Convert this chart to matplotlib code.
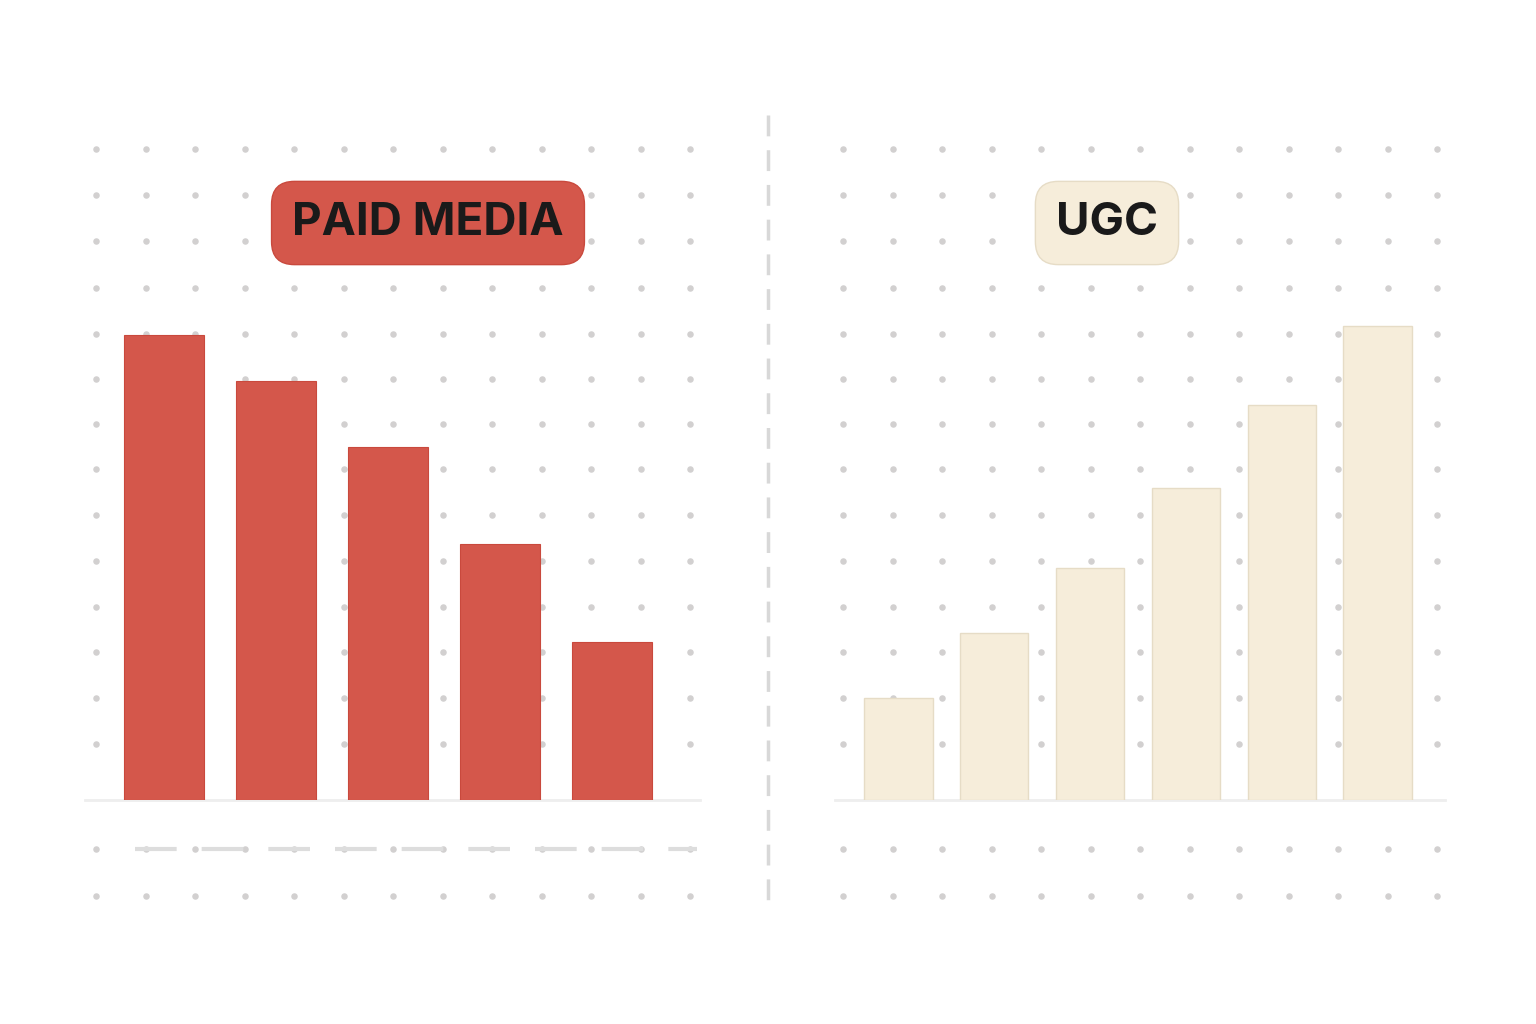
import matplotlib
matplotlib.use("Agg")
import matplotlib.pyplot as plt
import numpy as np

paid_labels = ["P1", "P2", "P3", "P4", "P5"]
paid_values = [100, 90, 76, 55, 34]
ugc_labels = ["U1", "U2", "U3", "U4", "U5", "U6"]
ugc_values = [22, 36, 50, 67, 85, 102]
titles = ["PAID MEDIA", "UGC"]

W, H = 1536, 1024
fig = plt.figure(figsize=(15.36, 10.24), dpi=100)
fig.patch.set_facecolor("white")

# background decoration axes in pixel coordinates
bg = fig.add_axes([0, 0, 1, 1])
bg.set_xlim(0, W); bg.set_ylim(H, 0); bg.axis("off")
rows = [149, 195, 241, 288, 334, 379, 424, 469, 515, 561, 607, 652, 698, 744, 849, 896]
lx = np.linspace(96, 690, 13)
rx = np.linspace(843, 1437, 13)
for xs in (lx, rx):
    X, Y = np.meshgrid(xs, rows)
    bg.scatter(X.ravel(), Y.ravel(), s=22, color="#d2d0d0", lw=0, zorder=0)
bg.plot([768, 768], [115, 912], color="#d8d8d8", lw=2.5, ls=(0, (6, 4)))
bg.plot([135, 697], [849, 849], color="#dddddd", lw=3, ls=(0, (10, 6)))
bg.plot([85, 700], [800, 800], color="#eeeeee", lw=2)
bg.plot([835, 1445], [800, 800], color="#eeeeee", lw=2)

px_per_unit = 4.65
def make_ax(x0, x1, centre0, spacing):
    ax = fig.add_axes([x0 / W, (H - 800) / H, (x1 - x0) / W, 660 / H])
    lo = -(centre0 - x0) / spacing
    ax.set_xlim(lo, lo + (x1 - x0) / spacing)
    ax.set_ylim(0, 660 / px_per_unit)
    ax.axis("off")
    ax.patch.set_alpha(0)
    return ax

ax1 = make_ax(85, 700, 164, 112)
ax1.bar(np.arange(len(paid_values)), paid_values, width=0.72, color="#D4574B", edgecolor="#c9493d", lw=0.8)
ax2 = make_ax(835, 1445, 898.5, 95.8)
ax2.bar(np.arange(len(ugc_values)), ugc_values, width=0.71, color="#F6EDDA", edgecolor="#e6dcc6", lw=1)

bg.text(428, 223, titles[0], ha="center", va="center", fontsize=33, fontweight="bold",
        color="#1a1a1a", family="Inter",
        bbox=dict(boxstyle="round,pad=0.45,rounding_size=0.5", fc="#D4574B", ec="#c9493d", lw=1))
bg.text(1107, 223, titles[1], ha="center", va="center", fontsize=33, fontweight="bold",
        color="#1a1a1a", family="Inter",
        bbox=dict(boxstyle="round,pad=0.45,rounding_size=0.5", fc="#F6EDDA", ec="#e6dcc6", lw=1))

fig.savefig("out.png", dpi=100)
